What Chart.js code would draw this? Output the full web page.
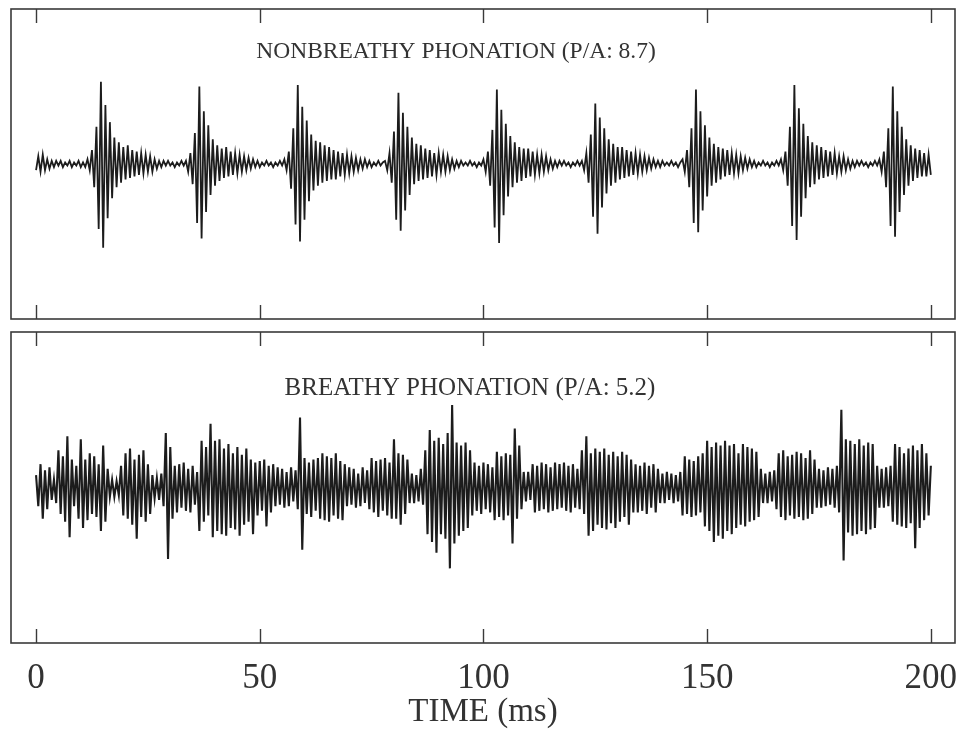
<!DOCTYPE html>
<html>
<head>
<meta charset="utf-8">
<script src="https://cdn.jsdelivr.net/npm/chart.js@4.4.1/dist/chart.umd.min.js"></script>
<style>
  body { margin: 0; background: #fff; }
  #wrap { position: relative; width: 958px; height: 745px; background: #fff; }
  canvas { position: absolute; left: 0; top: 0; }
</style>
</head>
<body>
<div id="wrap">
  <canvas id="topChart" width="958" height="745"></canvas>
  <canvas id="bottomChart" width="958" height="745"></canvas>
</div>
<script>
// time axis
const SAMPLE_MS = 0.5;
const tickValues = [0, 50, 100, 150, 200];
const xTitle = "TIME (ms)";
const titles = ["NONBREATHY PHONATION (P/A: 8.7)", "BREATHY PHONATION (P/A: 5.2)"];

// nonbreathy waveform, one sample every 0.5 ms (one line per glottal pulse)
const nonbreathy = [
  -4,5,-5,6,-4,3,-3,2,-2,2,-1,2,-2,1,-1,2,-2,1,-1,2,-2,1,-2,
  3,-4,9,-15,24,-42,53,-54,38,-35,27,-22,17,-15,14,-12,11,-10,12,-9,9,-8,8,-7,7,-6,6,-5,5,-5,3,-3,2,-2,2,-1,2,-1,1,-2,1,-1,2,-1,
  2,-5,7,-13,20,-38,50,-48,34,-31,25,-20,16,-14,12,-11,10,-9,11,-8,8,-7,7,-6,6,-5,5,-4,4,-3,3,-2,2,-2,1,-1,2,-1,1,-2,1,-1,2,-1,
  3,-4,8,-16,23,-39,51,-50,37,-36,28,-24,19,-17,15,-14,14,-12,12,-11,11,-10,9,-10,8,-8,7,-7,6,-6,5,-5,4,-4,3,-3,3,-2,2,-2,1,-1,2,-1,1,
  2,-4,7,-12,21,-36,46,-43,33,-30,24,-20,17,-13,13,-11,12,-10,10,-9,9,-8,7,-7,7,-5,6,-5,5,-4,3,-3,2,-2,2,-1,1,-1,2,-1,1,-2,1,-1,
  3,-5,8,-14,22,-41,48,-51,35,-33,26,-21,18,-15,14,-12,11,-11,10,-9,10,-8,8,-7,6,-6,6,-5,5,-4,3,-3,2,-2,2,-1,2,-1,1,-2,1,-1,2,-1,
  2,-4,7,-12,19,-34,39,-45,30,-28,23,-19,16,-14,13,-12,11,-10,11,-9,9,-8,8,-7,7,-6,6,-5,5,-4,4,-3,3,-2,2,-2,2,-1,1,-1,2,-1,1,-2,1,
  3,-5,9,-15,23,-38,48,-44,34,-30,25,-21,17,-14,13,-12,11,-10,10,-8,9,-7,7,-6,6,-6,5,-4,4,-3,3,-2,2,-2,1,-1,2,-1,1,-2,1,-1,2,-1,
  3,-4,8,-14,24,-40,51,-49,36,-34,26,-22,18,-15,14,-13,12,-10,11,-9,9,-8,8,-7,7,-6,5,-5,5,-4,3,-3,2,-2,2,-1,2,-1,1,-2,1,-1,2,-1,
  3,-5,8,-15,23,-40,50,-47,34,-31,24,-20,16,-14,12,-11,10,-9,9,-8,7,-8,6,-7
];

// breathy waveform, one sample every 0.5 ms (one line per 10 ms)
const breathy = [
  8,-12,15,-20,11,-14,13,-8,5,-10,24,-17,20,-22,33,-32,18,-12,14,-20,
  31,-26,18,-21,22,-17,20,-19,15,-28,27,-22,12,-6,5,-6,4,-5,14,-18,
  22,-20,25,-24,18,-33,21,-19,24,-22,15,-17,8,-7,6,-8,9,-12,35,-46,
  26,-20,14,-16,15,-13,16,-15,12,-16,14,-11,10,-28,30,-22,26,-18,41,-32,
  30,-28,31,-30,25,-31,28,-26,22,-27,26,-31,21,-24,25,-22,18,-30,16,-18,
  17,-15,18,-25,14,-16,15,-12,13,-11,12,-13,10,-12,13,-9,11,-14,45,-40,
  19,-17,16,-19,18,-15,19,-20,22,-21,20,-22,19,-18,22,-20,17,-21,15,-12,
  13,-11,12,-13,9,-12,13,-10,11,-14,19,-16,17,-19,18,-15,19,-18,16,-20,
  31,-20,22,-24,21,-17,18,-10,9,-10,8,-9,12,-11,24,-30,37,-35,30,-42,
  32,-30,28,-33,35,-52,53,-36,29,-31,27,-28,29,-26,24,-18,16,-15,14,-17,
  16,-14,15,-16,13,-21,23,-19,20,-21,22,-18,21,-36,38,-20,27,-14,10,-9,
  10,-8,15,-16,14,-15,16,-14,15,-16,13,-15,16,-14,15,-13,16,-15,14,-16,
  15,-13,12,-14,24,-17,33,-31,22,-28,25,-24,23,-26,25,-27,21,-23,23,-26,
  20,-22,23,-19,21,-24,18,-16,15,-16,14,-15,16,-17,14,-13,15,-16,12,-10,
  9,-10,10,-8,9,-10,8,-9,10,-18,20,-17,18,-19,17,-18,20,-16,22,-25,
  30,-28,26,-35,29,-31,27,-33,30,-28,27,-30,28,-26,22,-24,28,-25,26,-22,
  25,-21,23,-19,12,-10,9,-10,10,-9,11,-14,22,-19,24,-21,20,-18,21,-20,
  23,-19,22,-21,19,-20,24,-17,18,-13,12,-13,11,-12,13,-11,12,-13,14,-16,
  50,-47,31,-29,30,-31,28,-30,31,-28,27,-30,29,-27,28,-26,14,-13,12,-13,
  13,-12,14,-22,28,-24,26,-25,22,-26,25,-23,27,-39,24,-26,28,-21,22,-18,
  14
];

const X_MIN = -5.6, X_MAX = 205.4;
const INK = "#1c1c1c";

function toPoints(arr) {
  return arr.map((v, i) => ({ x: i * SAMPLE_MS, y: v }));
}

// frame, inward ticks and panel caption
const panelFrame = {
  id: "panelFrame",
  afterDraw(chart, args, opts) {
    const { ctx, chartArea: a, scales } = chart;
    ctx.save();
    ctx.strokeStyle = "#3a3a3a";
    ctx.lineWidth = 1.6;
    ctx.strokeRect(a.left, a.top, a.right - a.left, a.bottom - a.top);
    ctx.lineWidth = 1.4;
    tickValues.forEach(v => {
      const x = Math.round(scales.x.getPixelForValue(v)) + 0.5;
      ctx.beginPath();
      ctx.moveTo(x, a.top);
      ctx.lineTo(x, a.top + 14);
      ctx.moveTo(x, a.bottom);
      ctx.lineTo(x, a.bottom - 14);
      ctx.stroke();
    });
    ctx.fillStyle = "#333";
    ctx.font = opts.size + 'px "Liberation Serif", "DejaVu Serif", serif';
    ctx.textAlign = "center";
    ctx.textBaseline = "middle";
    ctx.fillText(opts.text, opts.x, a.top + opts.dy);
    ctx.restore();
  }
};

function makeChart(id, values, padding, title, showAxis, width) {
  return new Chart(document.getElementById(id), {
    type: "line",
    data: {
      datasets: [{
        data: toPoints(values),
        borderColor: INK,
        borderWidth: width,
        pointRadius: 0,
        tension: 0
      }]
    },
    options: {
      responsive: false,
      animation: false,
      events: [],
      layout: { padding },
      plugins: {
        legend: { display: false },
        tooltip: { enabled: false },
        panelFrame: title
      },
      scales: {
        x: {
          type: "linear",
          min: X_MIN,
          max: X_MAX,
          display: showAxis,
          grid: { display: false },
          border: { display: false },
          afterBuildTicks: s => { s.ticks = tickValues.map(v => ({ value: v })); },
          afterFit: s => {
            if (!showAxis) return;
            s.height = 102; s.paddingLeft = 0; s.paddingRight = 0;
          },
          ticks: {
            color: "#333",
            padding: 7,
            maxRotation: 0,
            autoSkip: false,
            font: { family: "Liberation Serif", size: 35 }
          },
          title: {
            display: true,
            text: xTitle,
            color: "#333",
            padding: { top: 0, bottom: 13 },
            font: { family: "Liberation Serif", size: 33 }
          }
        },
        y: { min: -100, max: 100, display: false }
      }
    },
    plugins: [panelFrame]
  });
}

makeChart("topChart", nonbreathy, { left: 11, top: 9, right: 3, bottom: 426 },
  { text: titles[0], x: 456, dy: 43, size: 23.5 }, false, 1.8);
makeChart("bottomChart", breathy, { left: 11, top: 332, right: 3, bottom: 0 },
  { text: titles[1], x: 470, dy: 56, size: 25 }, true, 2.1);
</script>
</body>
</html>
